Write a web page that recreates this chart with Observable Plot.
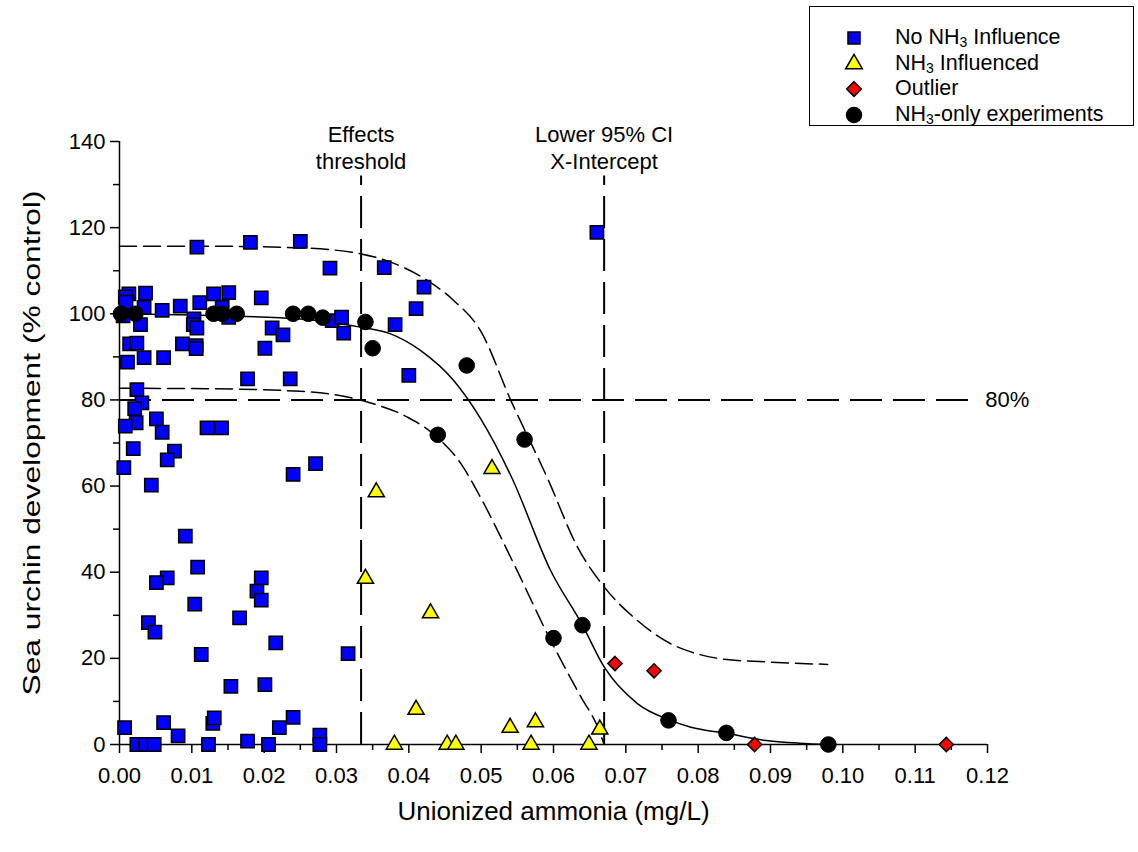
<!DOCTYPE html>
<html>
<head>
<meta charset="utf-8">
<script src="https://cdn.jsdelivr.net/npm/d3@7"></script>
<script src="https://cdn.jsdelivr.net/npm/@observablehq/plot@0.6"></script>
<style>
  html, body { margin: 0; padding: 0; background: #fff; }
  #wrap { position: relative; width: 1138px; height: 852px; font-family: "Liberation Sans", Arial, sans-serif; }
  #legend { position: absolute; left: 809px; top: 6px; width: 325px; height: 120px; border: 1px solid #000; box-sizing: border-box; background: #fff; }
  .row { position: absolute; left: 0; height: 24px; width: 320px; }
  .row svg { position: absolute; left: 33px; top: 1px; }
  .row span { position: absolute; left: 85px; top: 0px; font-size: 21.5px; line-height: 22px; color: #000; white-space: nowrap; }
  .row sub { font-size: 14px; vertical-align: -3px; line-height: 0; }
</style>
</head>
<body>
<div id="wrap"></div>
<script>
// ---------------- data ----------------
const noNH3Influence = [
  [0.0107,115.5],[0.0181,116.6],[0.0250,116.8],[0.0013,104.6],[0.0008,103.9],[0.0009,102.7],
  [0.0036,104.8],[0.0034,101.5],[0.0059,100.8],[0.0084,101.8],[0.0111,102.6],[0.0130,104.6],
  [0.0151,104.9],[0.0196,103.7],[0.0142,101.5],[0.0151,99.2],[0.0103,98.8],[0.0102,97.5],
  [0.0107,96.7],[0.0029,97.5],[0.0211,96.7],[0.0226,95.1],[0.0201,92.0],[0.0014,93.0],
  [0.0024,93.2],[0.0106,92.6],[0.0106,91.9],[0.0087,93.0],[0.0034,89.8],[0.0061,89.8],
  [0.0011,88.8],[0.0177,84.9],[0.0236,84.9],[0.0291,110.6],[0.0366,110.7],[0.0421,106.2],
  [0.0410,101.2],[0.0381,97.5],[0.0294,98.4],[0.0307,99.2],[0.0310,95.5],[0.0400,85.7],
  [0.0660,118.9],[0.0024,82.4],[0.0031,79.3],[0.0021,78.0],[0.0023,74.7],[0.0008,73.9],
  [0.0051,75.6],[0.0059,72.5],[0.0121,73.5],[0.0141,73.5],[0.0019,68.7],[0.0076,68.1],
  [0.0066,66.1],[0.0006,64.3],[0.0044,60.2],[0.0240,62.7],[0.0091,48.4],[0.0108,41.2],
  [0.0271,65.2],[0.0066,38.7],[0.0051,37.6],[0.0104,32.6],[0.0040,28.3],[0.0049,26.1],
  [0.0196,38.7],[0.0190,35.6],[0.0196,33.5],[0.0166,29.4],[0.0216,23.6],[0.0113,20.9],
  [0.0154,13.5],[0.0201,13.9],[0.0007,3.9],[0.0061,5.1],[0.0081,2.0],[0.0129,4.9],
  [0.0131,6.2],[0.0177,0.8],[0.0221,3.9],[0.0240,6.3],[0.0024,0],[0.0036,0],[0.0048,0],
  [0.0123,0],[0.0206,0],[0.0316,21.1],[0.0277,2.2],[0.0277,0],[0.0005,99.5]
];
const nh3Influenced = [
  [0.0355,58.6],[0.0340,38.5],[0.0430,30.5],[0.0410,8.1],[0.0380,0],[0.0453,0],[0.0465,0],
  [0.0515,64.0],[0.0540,3.9],[0.0575,5.2],[0.0569,0],[0.0649,0],[0.0664,3.5]
];
const outliers = [[0.0685,18.8],[0.0739,17.1],[0.0878,0],[0.1143,0]];
const nh3Only = [
  [0.0002,100],[0.0022,100],[0.0130,100],[0.0142,100],[0.0162,100],[0.0240,100],[0.0261,100],
  [0.0281,99.1],[0.0340,98.1],[0.0350,92.0],[0.0440,71.9],[0.0480,88.0],[0.0560,70.8],
  [0.0600,24.7],[0.0640,27.7],[0.0759,5.6],[0.0839,2.7],[0.0980,0]
];
// fitted curve and 95% confidence band
const fitCurve = [
  [0,100],[0.010,99.7],[0.025,98.8],[0.0333,96.9],[0.0374,95.4],[0.0416,91.5],[0.0462,84.5],
  [0.0499,75.7],[0.0543,61.7],[0.0596,40.4],[0.0640,27.7],[0.0670,18.0],[0.0716,9.5],
  [0.0762,5.6],[0.0790,4.0],[0.0839,2.6],[0.0891,1.0],[0.0940,0.3],[0.0980,0]
];
const ciUpper = [
  [0,115.7],[0.012,115.7],[0.025,115.3],[0.0334,113.9],[0.0375,112.0],[0.0426,107.7],
  [0.0462,103.1],[0.0499,96.1],[0.0541,79.9],[0.0592,61.7],[0.0633,45.9],[0.0670,36.6],
  [0.0716,28.8],[0.0762,23.4],[0.0790,21.5],[0.0836,19.8],[0.0891,19.2],[0.0979,18.6]
];
const ciLower = [
  [0,82.7],[0.012,82.6],[0.025,82.0],[0.0343,79.5],[0.0398,76.0],[0.0439,71.4],[0.0472,65.2],
  [0.0499,57.4],[0.0545,42.0],[0.0596,24.2],[0.0638,11.0],[0.0661,4.1],[0.0670,0]
];
const refLines = [
  {x: 0.0334, label: "Effects\nthreshold"},
  {x: 0.0670, label: "Lower 95% CI\nX-Intercept"}
];
const refTop = 132;
const level80 = [80];
const level80End = 0.1183;
const level80Label = "80%";
const xTicks = [0,0.01,0.02,0.03,0.04,0.05,0.06,0.07,0.08,0.09,0.10,0.11,0.12];
const xTickLabels = ["0.00","0.01","0.02","0.03","0.04","0.05","0.06","0.07","0.08","0.09","0.10","0.11","0.12"];
const xMinorTicks = [0.005,0.015,0.025,0.035,0.045,0.055,0.065,0.075,0.085,0.095,0.105,0.115];
const yTicks = [0,20,40,60,80,100,120,140];
const yMinorTicks = [10,30,50,70,90,110,130];
const xTitle = "Unionized ammonia (mg/L)";
const yTitle = "Sea urchin development (% control)";
const legendItems = [
  {symbol: "square", fill: "#0000ff", html: "No NH<sub>3</sub> Influence"},
  {symbol: "triangle", fill: "#ffff00", html: "NH<sub>3</sub> Influenced"},
  {symbol: "diamond2", fill: "#ff0000", html: "Outlier"},
  {symbol: "circle", fill: "#000000", html: "NH<sub>3</sub>-only experiments"}
];

// ---------------- chart ----------------
const pts = a => a.map(([x, y]) => ({x, y}));
const font = "'Liberation Sans', Arial, sans-serif";

const chart = Plot.plot({
  width: 1138,
  height: 852,
  marginLeft: 119,
  marginRight: 151,
  marginTop: 141,
  marginBottom: 108,
  x: {domain: [0, 0.12]},
  y: {domain: [0, 140]},
  style: {fontFamily: font, fontSize: "22px", color: "#000", background: "#fff", overflow: "visible"},
  marks: [
    // reference lines
    Plot.ruleY(level80, {x1: 0, x2: level80End, stroke: "#000", strokeWidth: 2, strokeDasharray: "32,11"}),
    Plot.ruleX(refLines, {x: "x", y1: 0, y2: refTop, stroke: "#000", strokeWidth: 2, strokeDasharray: "32,11"}),
    // curves
    Plot.line(pts(ciUpper), {x: "x", y: "y", curve: "monotone-x", stroke: "#000", strokeWidth: 1.5, strokeDasharray: "17,7"}),
    Plot.line(pts(ciLower), {x: "x", y: "y", curve: "monotone-x", stroke: "#000", strokeWidth: 1.5, strokeDasharray: "17,7"}),
    Plot.line(pts(fitCurve), {x: "x", y: "y", curve: "monotone-x", stroke: "#000", strokeWidth: 1.5}),
    // axes
    Plot.ruleX([0], {y1: 0, y2: 140, stroke: "#000", strokeWidth: 1.5}),
    Plot.ruleY([0], {x1: 0, x2: 0.12, stroke: "#000", strokeWidth: 1.5}),
    Plot.axisX({ticks: xTicks, tickSize: 9, tickPadding: 14, strokeWidth: 1.5, label: null,
      tickFormat: d => xTickLabels[xTicks.indexOf(d)]}),
    Plot.axisX({ticks: xMinorTicks, tickSize: 6, strokeWidth: 1.5, fill: "none", label: null}),
    Plot.axisY({ticks: yTicks, tickSize: 9, tickPadding: 5, strokeWidth: 1.5, label: null}),
    Plot.axisY({ticks: yMinorTicks, tickSize: 6, strokeWidth: 1.5, fill: "none", label: null}),
    // points
    Plot.dot(pts(noNH3Influence), {x: "x", y: "y", symbol: "square", r: 7.5, fill: "#0000ff", stroke: "#000", strokeWidth: 1.5}),
    Plot.dot(pts(nh3Influenced), {x: "x", y: "y", symbol: "triangle", r: 6, fill: "#ffff00", stroke: "#000", strokeWidth: 1.5}),
    Plot.dot(pts(outliers), {x: "x", y: "y", symbol: "diamond2", r: 6.4, fill: "#ff0000", stroke: "#000", strokeWidth: 1.5}),
    Plot.dot(pts(nh3Only), {x: "x", y: "y", r: 7.8, fill: "#000", stroke: "#000", strokeWidth: 1}),
    // annotations
    Plot.text(refLines, {x: "x", y: () => refTop, text: "label", lineAnchor: "bottom", dy: -7, lineHeight: 1.22, fill: "#000"}),
    Plot.text(level80, {x: () => level80End, y: d => d, text: () => level80Label, textAnchor: "start", dx: 10, fill: "#000"}),
    // axis titles
    Plot.text([xTitle], {frameAnchor: "bottom", text: d => d, textAnchor: "middle", dy: 75, fontSize: 26, fill: "#000"}),
    Plot.text([yTitle], {frameAnchor: "left", text: d => d, textAnchor: "middle", rotate: -90, dx: -87, fontSize: 24, fill: "#000"})
  ]
});

// the reference's y-axis title is drawn slightly elongated along its length
d3.select(chart).selectAll("text")
  .filter(function () { return this.textContent === yTitle; })
  .attr("textLength", 505)
  .attr("lengthAdjust", "spacingAndGlyphs");

const wrap = document.getElementById("wrap");
wrap.appendChild(chart);

// legend
const legend = document.createElement("div");
legend.id = "legend";
const rowCenters = [37, 62.5, 88, 113.5];
const legendR = {square: 6.8, triangle: 6.2, diamond2: 6.6, circle: 7.5};
const symMap = {square: d3.symbolSquare, triangle: d3.symbolTriangle, diamond2: d3.symbolDiamond2, circle: d3.symbolCircle};
legendItems.forEach((item, i) => {
  const row = document.createElement("div");
  row.className = "row";
  row.style.top = (rowCenters[i] - 6 - 12) + "px";
  const size = 22;
  const svg = d3.create("svg").attr("width", size).attr("height", size);
  const r = legendR[item.symbol];
  svg.append("path")
    .attr("transform", `translate(${size/2},${size/2})`)
    .attr("d", d3.symbol(symMap[item.symbol], Math.PI * r * r)())
    .attr("fill", item.fill).attr("stroke", "#000").attr("stroke-width", 1.5);
  row.appendChild(svg.node());
  const span = document.createElement("span");
  span.innerHTML = item.html;
  row.appendChild(span);
  legend.appendChild(row);
});
wrap.appendChild(legend);
</script>
</body>
</html>
